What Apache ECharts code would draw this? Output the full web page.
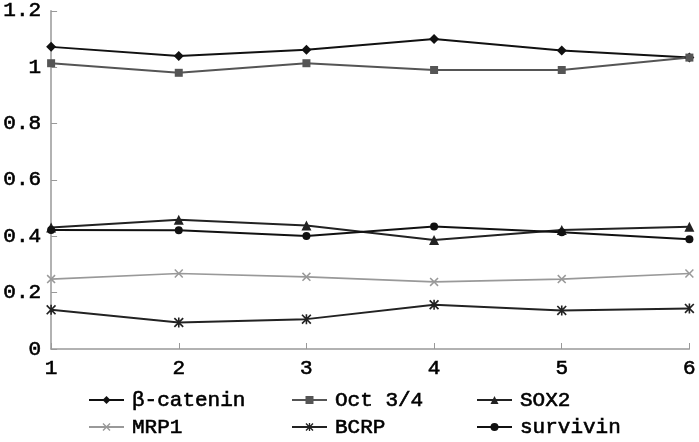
<!DOCTYPE html>
<html>
<head>
<meta charset="utf-8">
<script src="https://cdn.jsdelivr.net/npm/echarts@6/dist/echarts.min.js"></script>
<style>html,body{margin:0;padding:0;background:#fff}#c{width:699px;height:442px}</style>
</head>
<body>
<div id="c"></div>
<script>
var categories = ['1', '2', '3', '4', '5', '6'];
var seriesNames = ['β-catenin', 'Oct 3/4', 'SOX2', 'MRP1', 'BCRP', 'survivin'];
var betaCatenin = [1.072, 1.040, 1.062, 1.100, 1.059, 1.034];
var oct34 = [1.014, 0.980, 1.014, 0.990, 0.990, 1.034];
var sox2 = [0.431, 0.459, 0.438, 0.387, 0.422, 0.434];
var mrp1 = [0.248, 0.268, 0.256, 0.238, 0.248, 0.268];
var bcrp = [0.139, 0.094, 0.106, 0.157, 0.137, 0.144];
var survivin = [0.422, 0.421, 0.401, 0.435, 0.414, 0.389];
var yTicks = [0, 0.2, 0.4, 0.6, 0.8, 1, 1.2];

var FONT = '"Liberation Mono", "DejaVu Sans Mono", monospace';
var xPath = 'path://M0,1.2L1.2,0L5,3.8L8.8,0L10,1.2L6.2,5L10,8.8L8.8,10L5,6.2L1.2,10L0,8.8L3.8,5Z';
var starPath = 'path://M0,1.2L1.2,0L5,3.8L8.8,0L10,1.2L6.2,5L10,8.8L8.8,10L5,6.2L1.2,10L0,8.8L3.8,5Z M4.2,0L5.8,0L5.8,10L4.2,10Z';

var styles = [
  {data: betaCatenin, color: '#111', symbol: 'diamond', size: 10, width: 2},
  {data: oct34, color: '#555', symbol: 'rect', size: 8, width: 2},
  {data: sox2, color: '#222', symbol: 'triangle', size: 10, width: 2},
  {data: mrp1, color: '#999', symbol: xPath, size: 9, width: 1.6},
  {data: bcrp, color: '#222', symbol: starPath, size: 10, width: 2},
  {data: survivin, color: '#111', symbol: 'circle', size: 8, width: 2}
];

var series = styles.map(function (s, i) {
  return {
    name: seriesNames[i],
    type: 'line',
    data: s.data,
    symbol: s.symbol,
    symbolSize: s.size,
    showAllSymbol: true,
    lineStyle: {color: s.color, width: s.width},
    itemStyle: {color: s.color},
    emphasis: {disabled: true},
    animation: false
  };
});

var textBase = {fontFamily: FONT, fontSize: 21, color: '#000', textBorderColor: '#000', textBorderWidth: 0.6};

var legendPos = [
  {left: 88, top: 389}, {left: 291, top: 389}, {left: 476, top: 389},
  {left: 88, top: 416}, {left: 291, top: 416}, {left: 476, top: 416}
];
var legends = seriesNames.map(function (n, i) {
  return {
    data: [n],
    left: legendPos[i].left,
    top: legendPos[i].top,
    orient: 'horizontal',
    padding: 0,
    itemWidth: 35,
    itemHeight: 10,
    selectedMode: false,
    textStyle: Object.assign({}, textBase, {padding: [0, 0, 0, 3], lineHeight: 22})
  };
});

var chart = echarts.init(document.getElementById('c'), null, {renderer: 'canvas'});
chart.setOption({
  animation: false,
  backgroundColor: '#fff',
  grid: {left: 49, right: 8, top: 6, bottom: 93, containLabel: false},
  legend: legends,
  xAxis: {
    type: 'category',
    data: categories,
    boundaryGap: false,
    axisLine: {lineStyle: {color: '#999', width: 1.5}},
    axisTick: {inside: true, length: 6, lineStyle: {color: '#999'}},
    axisLabel: Object.assign({}, textBase, {margin: 9})
  },
  yAxis: {
    type: 'value',
    min: 0,
    max: 1.2,
    interval: 0.2,
    splitLine: {show: false},
    axisLine: {show: true, lineStyle: {color: '#999', width: 1.5}},
    axisTick: {show: true, inside: true, length: 6, lineStyle: {color: '#999'}},
    axisLabel: Object.assign({}, textBase, {
      margin: 10,
      formatter: function (v) {
        var t = yTicks.filter(function (y) { return Math.abs(y - v) < 1e-9; });
        return t.length ? String(t[0]) : '';
      }
    })
  },
  series: series
});
</script>
</body>
</html>
